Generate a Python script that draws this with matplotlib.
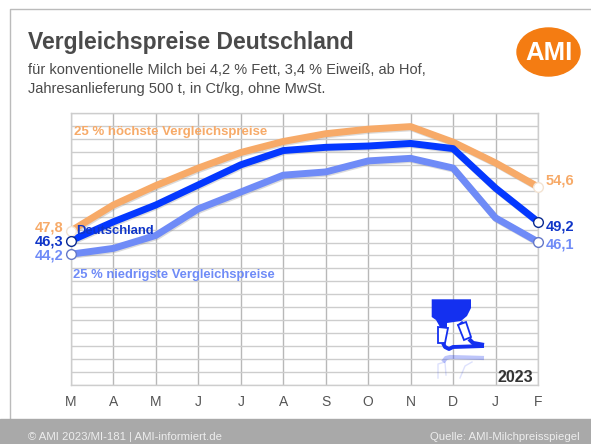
import matplotlib
matplotlib.use('Agg')
import matplotlib.pyplot as plt
from matplotlib.patches import Ellipse, Polygon, Rectangle
from matplotlib.transforms import offset_copy

months = ['M', 'A', 'M', 'J', 'J', 'A', 'S', 'O', 'N', 'D', 'J', 'F']
hoch = [47.8, 51.8, 54.8, 57.5, 59.9, 61.6, 62.8, 63.5, 63.9, 61.5, 58.3, 54.6]
deutschland = [46.3, 49.2, 51.8, 54.9, 58.0, 60.2, 60.7, 60.9, 61.3, 60.5, 54.4, 49.2]
niedrig = [44.2, 45.1, 47.1, 51.2, 53.8, 56.4, 56.9, 58.6, 59.0, 57.5, 49.8, 46.1]
y_ticks = list(range(24, 68, 2))

ORANGE = '#F7AA68'
BLUE = '#0438FF'
LIGHT = '#6F8BF7'
DARKBLUE = '#0F35C8'
GREY = '#4A4A4A'
GRID = '#CDCDCD'

plt.rcParams['font.family'] = ['Liberation Sans', 'DejaVu Sans']

W, H = 591, 444
fig = plt.figure(figsize=(W / 100, H / 100), dpi=100, facecolor='white')

# Rahmen, Fussband, Texte in Pixelkoordinaten
bg = fig.add_axes([0, 0, 1, 1])
bg.set_xlim(0, W)
bg.set_ylim(H, 0)
bg.axis('off')
bg.plot([9.5, 9.5, W], [H, 9.5, 9.5], color='#BBBBBB', lw=1)
bg.add_patch(Rectangle((0, 419), W, 25, color='#A9A9A9', zorder=3))
bg.add_patch(Ellipse((548.5, 52), 63, 48, color='#F47C12'))
bg.text(548.5, 53, 'AMI', color='white', fontsize=18.5, fontweight='bold', ha='center', va='center')
bg.text(28, 42, 'Vergleichspreise Deutschland', color=GREY, fontsize=16.5, fontweight='bold', va='center')
bg.text(28, 70.5, 'für konventionelle Milch bei 4,2 % Fett, 3,4 % Eiweiß, ab Hof,', color=GREY, fontsize=10.5, va='center')
bg.text(28, 88.5, 'Jahresanlieferung 500 t, in Ct/kg, ohne MwSt.', color=GREY, fontsize=10.5, va='center')
bg.text(28, 437, '© AMI 2023/MI-181 | AMI-informiert.de', color='#EDEDED', fontsize=8.2, va='center', zorder=4)
bg.text(580, 437, 'Quelle: AMI-Milchpreisspiegel', color='#EDEDED', fontsize=8.2, va='center', ha='right', zorder=4)

# Diagramm
left, right, top, bottom = 71, 538, 113, 385
ax = fig.add_axes([left / W, 1 - bottom / H, (right - left) / W, (bottom - top) / H])
ax.patch.set_alpha(0)
ax.set_xlim(0, len(months) - 1)
ax.set_ylim(y_ticks[0], y_ticks[-1])
ax.set_xticks(range(len(months)))
ax.set_xticklabels(months, fontsize=10, color='#555555')
ax.set_yticks(y_ticks)
ax.tick_params(axis='y', left=False, labelleft=False)
ax.tick_params(axis='x', bottom=False, pad=4)
ax.grid(axis='y', color=GRID, lw=1)
ax.grid(axis='x', color='#B8B8B8', lw=1)
ax.set_axisbelow(True)
for s in ax.spines.values():
    s.set_color(GRID)
    s.set_linewidth(1)

x = list(range(len(months)))
shadow_tr = offset_copy(ax.transData, fig=fig, x=1, y=-1.2, units='dots')
for vals, col, edge in [(hoch, ORANGE, '#F3E3D2'), (niedrig, LIGHT, '#6478C8'), (deutschland, BLUE, '#0A2A90')]:
    ax.plot(x, vals, color='#888888', alpha=0.3, lw=5, transform=shadow_tr, zorder=3.5, solid_capstyle='butt')
    ax.plot(x, vals, color=col, lw=5, solid_joinstyle='round', solid_capstyle='butt', zorder=4)
    ax.plot([x[0], x[-1]], [vals[0], vals[-1]], ls='none', marker='o', ms=7, mfc='white', mec=edge, mew=1, clip_on=False, zorder=5)


def fmt(v):
    return f'{v:.1f}'.replace('.', ',')


for vals, col, yl, yr in [(hoch, ORANGE, 227, 180), (deutschland, DARKBLUE, 241, 226), (niedrig, LIGHT, 255, 244)]:
    bg.text(63.5, yl, fmt(vals[0]), color=col, fontsize=10.5, fontweight='bold', ha='right', va='center', zorder=6)
    bg.text(545.5, yr, fmt(vals[-1]), color=col, fontsize=10.5, fontweight='bold', va='center', zorder=6)

# Overlay fuer Beschriftungen und Melkzeug-Symbol
ov = fig.add_axes([0, 0, 1, 1])
ov.set_xlim(0, W)
ov.set_ylim(H, 0)
ov.axis('off')
ov.patch.set_alpha(0)
ov.text(74, 132, '25 % höchste Vergleichspreise', color=ORANGE, fontsize=9.5, fontweight='bold', va='center')
ov.text(76, 231, 'Deutschland', color=DARKBLUE, fontsize=9.4, fontweight='bold', va='center')
ov.text(73, 274.5, '25 % niedrigste Vergleichspreise', color=LIGHT, fontsize=9.4, fontweight='bold', va='center')
ov.text(497, 377, '2023', color='#333333', fontsize=11.5, fontweight='bold', va='center')

ICON = '#1430F0'
bowl = [(431.7, 299.3), (471, 299.3), (471, 308), (467, 316), (461, 321), (447, 323), (447, 327), (440, 327), (436, 320), (431.7, 317)]
ov.add_patch(Polygon(bowl, closed=True, fc=ICON, ec='none', zorder=7))
ov.add_patch(Polygon([(457, 325), (462, 321), (465, 323), (459, 327)], closed=True, fc=ICON, ec='none', zorder=7))
cup1 = [(438, 327), (448, 328), (445, 343), (438, 343)]
cup2 = [(458, 325), (466, 322), (471, 337), (464, 340)]
ov.add_patch(Polygon(cup1, closed=True, fc='white', ec=ICON, lw=1.3, zorder=7))
ov.add_patch(Polygon(cup2, closed=True, fc='white', ec=ICON, lw=1.3, zorder=7))
ov.plot([443, 445, 449, 453, 484], [343, 347, 349, 347, 346], color=ICON, lw=2.8, zorder=7, solid_capstyle='butt')
ov.plot([469, 473, 484], [339, 343, 345], color=ICON, lw=3, zorder=7, solid_capstyle='butt')
# Spiegelung
ov.plot([443, 446, 450, 484], [362, 358, 357, 358], color=ICON, lw=3, alpha=0.28, zorder=7, solid_capstyle='butt')
ov.plot([438, 438, 445, 446], [378, 364, 362, 375], color=ICON, lw=1, alpha=0.14, zorder=7)
ov.plot([460, 465, 472], [378, 366, 362], color=ICON, lw=1, alpha=0.14, zorder=7)

fig.savefig('out.png', dpi=100, facecolor='white')
